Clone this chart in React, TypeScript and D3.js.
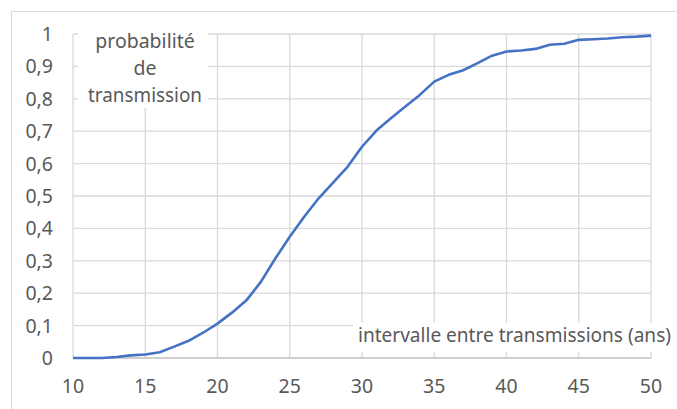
import React from 'react';
import * as d3 from 'd3';

// intervalle (ans)
const years = [
  10, 11, 12, 13, 14, 15, 16, 17, 18, 19, 20, 21, 22, 23, 24, 25, 26, 27, 28, 29,
  30, 31, 32, 33, 34, 35, 36, 37, 38, 39, 40, 41, 42, 43, 44, 45, 46, 47, 48, 49, 50,
];
// probabilité de transmission
const probs = [
  0, 0, 0, 0.003, 0.008, 0.011, 0.018, 0.035, 0.053, 0.078, 0.106, 0.14, 0.178,
  0.235, 0.307, 0.374, 0.436, 0.493, 0.541, 0.59, 0.652, 0.702, 0.74, 0.776, 0.812,
  0.853, 0.874, 0.888, 0.91, 0.933, 0.946, 0.949, 0.954, 0.967, 0.97, 0.982, 0.984,
  0.986, 0.99, 0.992, 0.995,
];
const xTicks = [10, 15, 20, 25, 30, 35, 40, 45, 50];
const yTicks = [0, 0.1, 0.2, 0.3, 0.4, 0.5, 0.6, 0.7, 0.8, 0.9, 1];
const yLabelLines = ['probabilité', 'de', 'transmission'];
const xLabel = 'intervalle entre transmissions (ans)';

const font = '"Noto Sans", "Open Sans", sans-serif';
const textColor = '#595959';

export default function App() {
  const width = 677;
  const height = 409;

  const x = d3.scaleLinear().domain([10, 50]).range([73, 651]);
  const y = d3.scaleLinear().domain([0, 1]).range([358, 34]);

  const line = d3
    .line<number>()
    .x((_, i) => x(years[i]))
    .y((d) => y(d));

  const fmt = (v: number) => (v === 0 || v === 1 ? String(v) : String(v).replace('.', ','));

  return (
    <svg
      width={width}
      height={height}
      style={{ position: 'absolute', left: 0, top: 0, background: '#fff' }}
    >
      <rect x={11.5} y={11.5} width={700} height={500} fill="#fff" stroke="#d9d9d9" />

      {/* horizontal grid */}
      {yTicks.slice(1).map((t) => (
        <line key={'h' + t} x1={x(10)} x2={x(50)} y1={y(t)} y2={y(t)} stroke="#d9d9d9" strokeWidth={1.3} />
      ))}
      {/* vertical grid */}
      {xTicks.map((t) => (
        <line key={'v' + t} x1={x(t)} x2={x(t)} y1={y(1)} y2={y(0)} stroke="#d9d9d9" strokeWidth={1.3} />
      ))}
      <line x1={x(10)} x2={x(50)} y1={y(0)} y2={y(0)} stroke="#bfbfbf" strokeWidth={1.3} />

      {/* y tick labels */}
      {yTicks.map((t) => (
        <text
          key={'yl' + t}
          x={53}
          y={y(t)}
          dy="0.36em"
          textAnchor="end"
          fontFamily={font}
          fontSize={19.5}
          fill={textColor}
        >
          {fmt(t)}
        </text>
      ))}
      {/* x tick labels */}
      {xTicks.map((t) => (
        <text
          key={'xl' + t}
          x={x(t)}
          y={393}
          textAnchor="middle"
          fontFamily={font}
          fontSize={19.5}
          fill={textColor}
        >
          {t}
        </text>
      ))}

      <path d={line(probs) || ''} fill="none" stroke="#4472c4" strokeWidth={2.6} strokeLinejoin="round" />

      {/* y title box */}
      <rect x={78} y={24} width={130} height={84} fill="#fff" />
      {yLabelLines.map((s, i) => (
        <text
          key={s}
          x={145}
          y={48 + i * 27}
          textAnchor="middle"
          fontFamily={font}
          fontSize={19.5}
          fill={textColor}
          textLength={s === 'transmission' ? 114 : undefined}
          lengthAdjust="spacingAndGlyphs"
        >
          {s}
        </text>
      ))}

      {/* x title box */}
      <rect x={353} y={323} width={330} height={29} fill="#fff" />
      <text
        x={358}
        y={342}
        fontFamily={font}
        fontSize={19.5}
        fill={textColor}
        textLength={313}
        lengthAdjust="spacingAndGlyphs"
      >
        {xLabel}
      </text>
    </svg>
  );
}
